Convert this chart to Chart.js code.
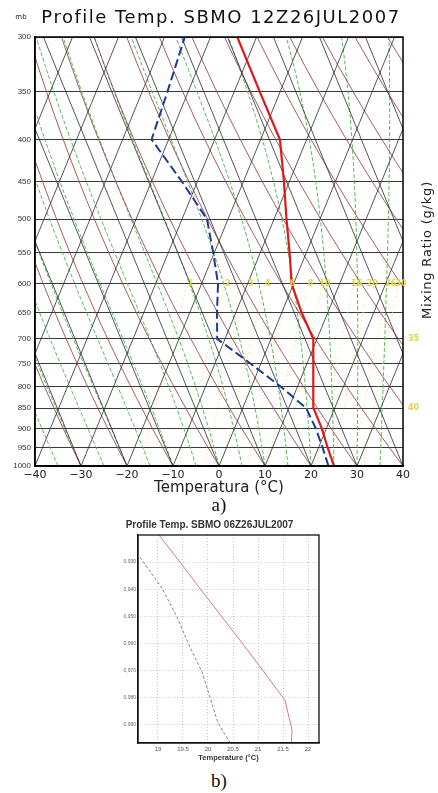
<!DOCTYPE html>
<html lang="pt">
<head>
<meta charset="UTF-8">
<title>Profile Temp. SBMO</title>
<script src="https://cdn.jsdelivr.net/npm/chart.js"></script>
<style>
    body { margin: 0; background: #fff; width: 438px; height: 793px; position: relative; overflow: hidden; }
    #skewt { position: absolute; left: 0; top: 0; }
    #perfil { position: absolute; left: 100px; top: 512px; }
    .rot { position: absolute; left: 0; width: 438px; text-align: center;
           font-family: "Liberation Serif", "DejaVu Serif", serif; font-size: 19px; line-height: 20px; color: #111; }
</style>
</head>
<body>
<canvas id="skewt" width="438" height="497"></canvas>
<div class="rot" style="top:495px">a)</div>
<canvas id="perfil" width="240" height="256"></canvas>
<div class="rot" style="top:771px">b)</div>

<script>
// a) sondagem SBMO 12Z26JUL2007 (hPa, °C)
const pressao   = [1000, 950, 900, 850, 800, 750, 700, 650, 600, 550, 500, 450, 400, 350, 300];
const temp12    = [25.0, 22.0, 19.0, 15.4, 13.4, 11.4, 9.2, 4.3, -0.4, -3.6, -7.3, -11.2, -15.8, -24.4, -34.2];
const orvalho12 = [23.8, 20.9, 17.7, 13.8, 6.3, -2.3, -11.7, -14.1, -16.4, -20.2, -24.6, -33.4, -43.7, -44.5, -45.6];
const tempTicks = [-40, -30, -20, -10, 0, 10, 20, 30, 40];
const presTicks = [300, 350, 400, 450, 500, 550, 600, 650, 700, 750, 800, 850, 900, 950, 1000];
const razaoMistura = [1, 2, 3, 4, 6, 8, 10, 16, 20, 26, 30];
const isotermas = [-120, -110, -100, -90, -80, -70, -60, -50, -40, -30, -20, -10, 0, 10, 20, 30, 40];
const adiabSecas = [-40, -30, -20, -10, 0, 10, 20, 30, 40, 50, 60, 70, 80, 90, 100, 110, 120];
const adiabUmidas = [-40, -35, -30, -25, -20, -15, -10, -5, 0, 5, 10, 15, 20, 25, 30, 35, 40];
const rotulosUmidas = ['35', '40'];

// b) perfil SBMO 06Z26JUL2007
const sigmaTemp = [0.92, 0.93, 0.94, 0.95, 0.96, 0.97, 0.981, 0.9918, 0.9966];
const temp06    = [19.02, 19.44, 19.85, 20.27, 20.69, 21.10, 21.54, 21.68, 21.67];
const sigmaOrv  = [0.9282, 0.9396, 0.9502, 0.9598, 0.9705, 0.9893, 0.9966];
const orv06     = [18.64, 19.08, 19.38, 19.60, 19.88, 20.20, 20.44];
const tempTicksB  = [19, 19.5, 20, 20.5, 21, 21.5, 22];
const sigmaTicks  = [0.93, 0.94, 0.95, 0.96, 0.97, 0.98, 0.99];

// inclinacao do diagrama skew-T (°C por unidade de ln p)
const S = 31.7;
function skewX(t, p) { return t + S * Math.log(1000 / p); }
function es(t) { return 6.112 * Math.exp(17.67 * t / (t + 243.5)); }
function tdMistura(w, p) {
    const e = w * p / (622 + w);
    const l = Math.log(e / 6.112);
    return 243.5 * l / (17.67 - l);
}
function pseudoAdiabatica(t0) {
    let T = t0 + 273.15;
    const pts = [];
    for (let p = 1000; p >= 300; p -= 5) {
        if (p % 25 === 0) pts.push({ x: skewX(T - 273.15, p), y: p });
        const e = es(T - 273.15), rs = 0.622 * e / (p - e);
        const dTdp = (287 * T + 2.5e6 * rs) / (p * (1004 + 2.5e6 * 2.5e6 * rs * 0.622 / (287 * T * T)));
        T -= dTdp * 5;
    }
    return pts;
}
function adiabSeca(t0) {
    const pts = [];
    for (let p = 1000; p >= 300; p -= 25) {
        const t = (t0 + 273.15) * Math.pow(p / 1000, 0.2857) - 273.15;
        pts.push({ x: skewX(t, p), y: p });
    }
    return pts;
}

function linha(pts, cor, larg, dash) {
    return { data: pts, borderColor: cor, borderWidth: larg, borderDash: dash || [],
             showLine: true, pointRadius: 0, tension: 0, fill: false };
}

// datasets: os primeiros ficam por cima
const dsA = [];
dsA.push(linha(pressao.map((p, i) => ({ x: skewX(temp12[i], p), y: p })), '#e01818', 2.2));
dsA.push(linha(pressao.map((p, i) => ({ x: skewX(orvalho12[i], p), y: p })), '#1f3a96', 2, [9, 4]));
isotermas.forEach(t => dsA.push(linha([{ x: t, y: 1000 }, { x: skewX(t, 300), y: 300 }], '#2a2a2a', 0.8)));
isotermas.forEach(t => dsA.push(linha([{ x: t + 80, y: 1000 }, { x: t + 80 - S * Math.log(1000 / 300), y: 300 }], '#2a2a2a', 0.8)));
adiabSecas.forEach(t => dsA.push(linha(adiabSeca(t), '#9c4a50', 0.9)));
adiabUmidas.forEach(t => dsA.push(linha(pseudoAdiabatica(t), '#5cb85c', 1, [4, 2])));
razaoMistura.forEach(w => dsA.push(linha([1000, 900, 800, 700, 600].map(p => ({ x: skewX(tdMistura(w, p), p), y: p })), '#e4dc6a', 1, [1, 3])));

const extrasA = {
    id: 'extrasA',
    afterDatasetsDraw(chart) {
        const { ctx, chartArea: a, scales: { x, y } } = chart;
        ctx.save();
        ctx.strokeStyle = '#000';
        ctx.lineWidth = 1.5;
        ctx.strokeRect(a.left, a.top, a.right - a.left, a.bottom - a.top);

        ctx.fillStyle = '#e2d545';
        ctx.font = 'bold 8px "DejaVu Sans"';
        ctx.textAlign = 'center';
        ctx.textBaseline = 'middle';
        const y600 = y.getPixelForValue(600);
        razaoMistura.forEach(w => {
            const px = x.getPixelForValue(skewX(tdMistura(w, 600), 600));
            ctx.fillText(String(w), px + 3, y600);
        });
        ctx.textAlign = 'left';
        ctx.fillText(rotulosUmidas[0], a.right + 5, y.getPixelForValue(700));
        ctx.fillText(rotulosUmidas[1], a.right + 5, y.getPixelForValue(850));

        ctx.fillStyle = '#111';
        ctx.font = '18px "DejaVu Sans"';
        ctx.textAlign = 'center';
        ctx.letterSpacing = '1.5px';
        ctx.fillText('Profile Temp. SBMO 12Z26JUL2007', (a.left + a.right) / 2 + 2, 18);
        ctx.letterSpacing = '0px';

        ctx.fillStyle = '#222';
        ctx.font = '7px "DejaVu Sans"';
        ctx.fillText('mb', 21, 17);

        ctx.font = '13px "DejaVu Sans"';
        ctx.letterSpacing = '0.8px';
        ctx.translate(428, 250);
        ctx.rotate(-Math.PI / 2);
        ctx.fillText('Mixing Ratio (g/kg)', 0, 0);
        ctx.restore();
    }
};

new Chart(document.getElementById('skewt'), {
    type: 'scatter',
    data: { datasets: dsA },
    options: {
        responsive: false,
        animation: false,
        events: [],
        layout: { padding: { left: 0, right: 35, top: 37, bottom: 0 } },
        plugins: {
            legend: { display: false },
            tooltip: { enabled: false },
            title: { display: false }
        },
        scales: {
            x: {
                type: 'linear', min: -40, max: 40,
                afterBuildTicks: s => { s.ticks = tempTicks.map(v => ({ value: v })); },
                afterFit: s => { s.height = 31; },
                grid: { display: false, drawTicks: false },
                border: { display: true, color: '#000', width: 1.5 },
                ticks: {
                    padding: 3, color: '#222', font: { family: '"DejaVu Sans"', size: 11 },
                    callback: v => v < 0 ? '\u2212' + (-v) : String(v)
                },
                title: {
                    display: true, text: 'Temperatura (°C)', color: '#222',
                    font: { family: '"DejaVu Sans"', size: 15 }, padding: { top: 0, bottom: 0 }
                }
            },
            y: {
                type: 'logarithmic', min: 300, max: 1000, reverse: true,
                afterBuildTicks: s => { s.ticks = presTicks.map(v => ({ value: v })); },
                afterFit: s => { s.width = 35; },
                grid: { color: '#3a3a3a', lineWidth: 1, drawTicks: false },
                border: { display: true, color: '#000', width: 1.5 },
                ticks: {
                    padding: 4, color: '#333', font: { family: '"Liberation Sans"', size: 8 },
                    callback: v => String(v)
                }
            }
        }
    },
    plugins: [extrasA]
});

// b)
const caixaB = {
    id: 'caixaB',
    afterDatasetsDraw(chart) {
        const { ctx, chartArea: a } = chart;
        ctx.save();
        ctx.strokeStyle = '#111';
        ctx.lineWidth = 1.3;
        ctx.strokeRect(a.left, a.top, a.right - a.left, a.bottom - a.top);
        ctx.restore();
    }
};

new Chart(document.getElementById('perfil'), {
    type: 'scatter',
    data: {
        datasets: [
            linha(sigmaTemp.map((s, i) => ({ x: temp06[i], y: s })), '#d97a7a', 1),
            linha(sigmaOrv.map((s, i) => ({ x: orv06[i], y: s })), '#7a86aa', 1, [3, 2])
        ]
    },
    options: {
        responsive: false,
        animation: false,
        events: [],
        layout: { padding: { left: 0, right: 21, top: 0, bottom: 0 } },
        plugins: {
            legend: { display: false },
            tooltip: { enabled: false },
            title: {
                display: true,
                text: 'Profile Temp. SBMO 06Z26JUL2007',
                color: '#333',
                font: { family: '"Liberation Sans"', size: 10, weight: 'bold' },
                padding: { top: 7, bottom: 4 }
            }
        },
        scales: {
            x: {
                type: 'linear', min: 18.6, max: 22.22,
                afterBuildTicks: s => { s.ticks = tempTicksB.map(v => ({ value: v })); },
                afterFit: s => { s.height = 25; },
                grid: { color: '#c8c8c8', lineWidth: 1, drawTicks: false },
                border: { display: true, color: '#111', width: 1.3, dash: [1, 2] },
                ticks: { padding: 3, color: '#555', font: { family: '"Liberation Sans"', size: 6 }, callback: v => String(v) },
                title: {
                    display: true, text: 'Temperature (°C)', color: '#333',
                    font: { family: '"Liberation Sans"', size: 7.5, weight: 'bold' }, padding: { top: 0, bottom: 6 }
                }
            },
            y: {
                type: 'linear', min: 0.92, max: 0.9967, reverse: true,
                afterBuildTicks: s => { s.ticks = sigmaTicks.map(v => ({ value: v })); },
                afterFit: s => { s.width = 38; },
                grid: { color: '#c8c8c8', lineWidth: 1, drawTicks: false },
                border: { display: true, color: '#111', width: 1.3, dash: [1, 2] },
                ticks: { padding: 2, color: '#666', font: { family: '"Liberation Sans"', size: 5 },
                         callback: v => v.toFixed(3).replace('.', ',') }
            }
        }
    },
    plugins: [caixaB]
});
</script>
</body>
</html>
